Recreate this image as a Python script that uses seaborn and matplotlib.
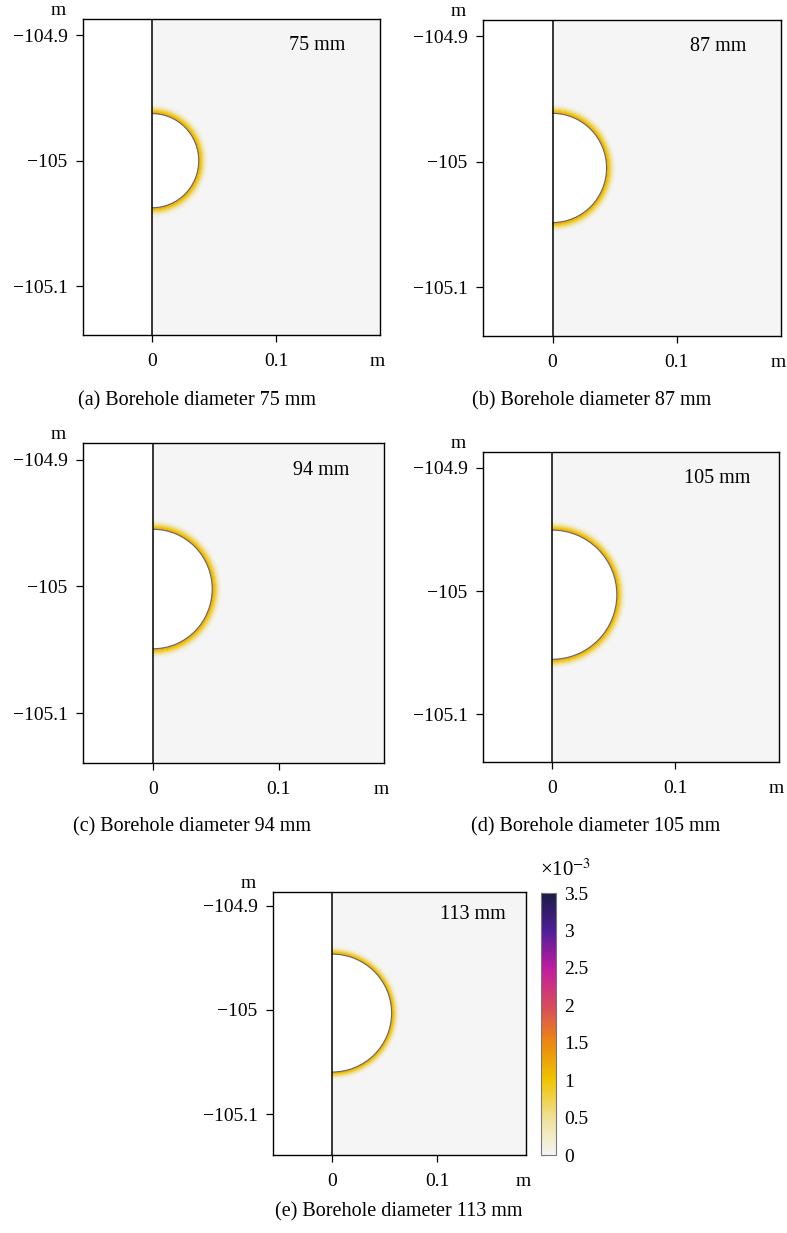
import numpy as np
import matplotlib
matplotlib.use("Agg")
import matplotlib.pyplot as plt
from matplotlib.patches import Wedge, Arc
from matplotlib.colors import Normalize
from matplotlib.cm import ScalarMappable
import seaborn as sns

# panel data
letters = ['a', 'b', 'c', 'd', 'e']
diameters_mm = [75, 87, 94, 105, 113]
centre_y = [-105.0, -105.005, -105.002, -105.003, -105.003]

# strain around the wall (x10^-3), bands outward from the borehole wall
ring_edges_mm = [0.0, 0.8, 1.6, 2.4, 3.2, 4.0, 4.8, 5.6, 6.4, 7.2]
ring_strain = [1.35, 1.2, 1.02, 0.84, 0.66, 0.48, 0.32, 0.18, 0.07]

# colour bar
cbar_colors = ['#f5f5f5', '#efe096', '#f0c400', '#ec8812',
               '#d84a5e', '#c01ca0', '#4e1e98', '#1c1c44']
cbar_ticks = [0, 0.5, 1, 1.5, 2, 2.5, 3, 3.5]
cbar_labels = ['0', '0.5', '1', '1.5', '2', '2.5', '3', '3.5']

xticks = [0, 0.1]
xticklabels = ['0', '0.1']
yticks = [-105.1, -105.0, -104.9]
yticklabels = ['\u2212105.1', '\u2212105', '\u2212104.9']

sns.set_theme(style="ticks")
plt.rcParams['font.family'] = ['Liberation Serif', 'DejaVu Serif']
plt.rcParams['mathtext.fontset'] = 'stix'
plt.rcParams['text.color'] = 'black'

cmap = sns.blend_palette(cbar_colors, as_cmap=True)
norm = Normalize(vmin=0, vmax=3.5)

W, H = 787, 1233
fig = plt.figure(figsize=(W / 100, H / 100), dpi=100)


def px_axes(l, t, r, b):
    return fig.add_axes([l / W, 1 - b / H, (r - l) / W, (b - t) / H])


boxes = [(83, 19, 380, 335), (483, 20, 781, 336), (83, 443, 384, 763),
         (483, 452, 779, 762), (273, 892, 526, 1155)]
captions_xy = [(197, 401), (592, 401), (192, 827), (596, 827), (399, 1212)]

xlim = (-0.056, 0.184)
ylim = (-105.139, -104.887)

for i in range(5):
    ax = px_axes(*boxes[i])
    ax.set_facecolor('white')
    ax.set_xlim(xlim)
    ax.set_ylim(ylim)
    ax.axvspan(0, xlim[1], color=cmap(0.0), lw=0, zorder=0)

    r = diameters_mm[i] / 2000
    yc = centre_y[i]
    for k in range(len(ring_strain)):
        col = cmap(norm(ring_strain[k]))
        w = Wedge((0, yc), r + ring_edges_mm[k + 1] / 1000, -90, 90,
                  width=(ring_edges_mm[k + 1] - ring_edges_mm[k]) / 1000,
                  facecolor=col, edgecolor=col, lw=0.3, zorder=1)
        ax.add_patch(w)
    ax.add_patch(Wedge((0, yc), r, -90, 90, facecolor='white',
                       edgecolor='none', zorder=2))
    ax.add_patch(Arc((0, yc), 2 * r, 2 * r, theta1=-90, theta2=90,
                     color='#666666', lw=0.8, zorder=3))
    ax.axvline(0, color='black', lw=1.1, zorder=5)

    ax.set_xticks(xticks)
    ax.set_xticklabels(xticklabels)
    ax.set_yticks(yticks)
    ax.set_yticklabels(yticklabels)
    ax.tick_params(direction='out', length=5, width=0.9, labelsize=14,
                   colors='black')
    ax.tick_params(axis='x', pad=8)
    ax.tick_params(axis='y', pad=6)
    for sp in ax.spines.values():
        sp.set_color('black')
        sp.set_linewidth(1.0)

    ax.text(0.79, 0.915, f'{diameters_mm[i]} mm', transform=ax.transAxes,
            ha='center', va='center', fontsize=14.5)
    ax.annotate('m', xy=(0, 1), xycoords='axes fraction', xytext=(-18, 0),
                textcoords='offset points', ha='center', va='bottom',
                fontsize=14)
    ax.annotate('m', xy=(0.99, 0), xycoords='axes fraction', xytext=(0, -19),
                textcoords='offset points', ha='center', va='center',
                fontsize=14)

    cx, cy = captions_xy[i]
    fig.text(cx / W, 1 - cy / H,
             f'({letters[i]}) Borehole diameter {diameters_mm[i]} mm',
             ha='center', va='center', fontsize=14.5)

cax = px_axes(541, 893, 556, 1155)
cb = fig.colorbar(ScalarMappable(norm=norm, cmap=cmap), cax=cax)
cb.set_ticks(cbar_ticks)
cb.set_ticklabels(cbar_labels)
cb.outline.set_edgecolor('#777777')
cb.outline.set_linewidth(0.8)
cax.tick_params(axis='y', direction='in', length=3, width=0.8, left=True,
                right=False, labelleft=False, labelright=True, labelsize=14,
                pad=6, colors='black')
fig.text(540 / W, 1 - 870 / H, '\u00d710$^{\u22123}$', ha='left',
         va='center', fontsize=15)

fig.savefig('out.png', dpi=100)
